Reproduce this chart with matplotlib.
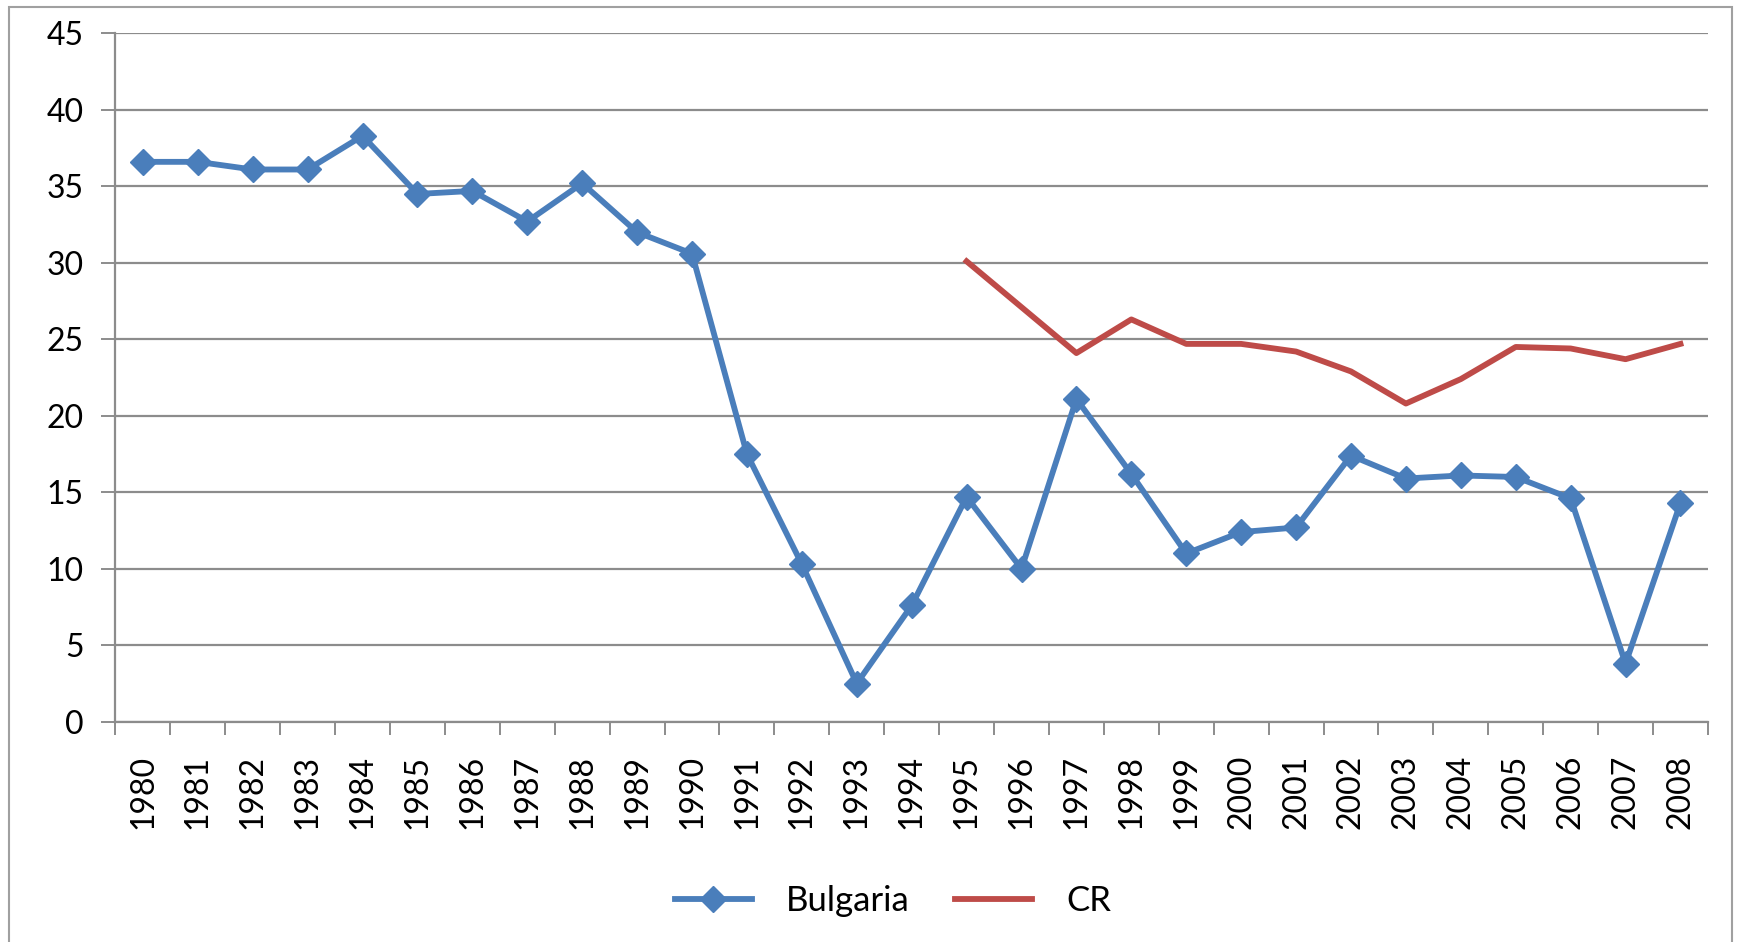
import matplotlib.pyplot as plt
from matplotlib.patches import Rectangle
import numpy as np

#-----------------Data-------------

years = list(range(1980, 2009))

bulgaria = [36.6, 36.6, 36.1, 36.1, 38.3, 34.5, 34.7, 32.7, 35.2, 32.0,
            30.6, 17.5, 10.3, 2.5, 7.6, 14.7, 10.0, 21.1, 16.2, 11.0,
            12.4, 12.7, 17.4, 15.9, 16.1, 16.0, 14.6, 3.8, 14.3]

cr_years = list(range(1995, 2009))
cr = [30.1, 27.1, 24.1, 26.3, 24.7, 24.7, 24.2, 22.9, 20.8, 22.4,
      24.5, 24.4, 23.7, 24.7]

y_ticks = [0, 5, 10, 15, 20, 25, 30, 35, 40, 45]

#-----------------Figure-------------

plt.rcParams['font.family'] = ['Lato', 'DejaVu Sans']

fig = plt.figure(figsize=(17.41, 9.42), dpi=100)
ax = fig.add_axes([0.0663, 0.2338, 0.9147, 0.7308])

blue = '#4A7EBB'
red = '#BE4B48'
grid = '#8C8C8C'

x = np.arange(len(years))
cr_x = [years.index(y) for y in cr_years]

ax.plot(x, bulgaria, color=blue, lw=4.2, marker='D', markersize=13.5,
        label='Bulgaria', zorder=3)
ax.plot(cr_x, cr, color=red, lw=4.2, label='CR', zorder=3)

ax.set_xlim(-0.5, len(years) - 0.5)
ax.set_ylim(0, 45)
ax.set_yticks(y_ticks)
ax.yaxis.grid(True, color=grid, lw=1.6)
ax.set_axisbelow(True)

ax.set_xticks(x)
ax.set_xticklabels([str(y) for y in years], rotation=90)
ax.set_xticks(np.arange(-0.5, len(years)), minor=True)
ax.tick_params(axis='x', which='major', length=0, pad=24, labelsize=23)
ax.tick_params(axis='x', which='minor', length=9, width=1.4, color=grid)
ax.tick_params(axis='y', length=10, width=1.4, color=grid, labelsize=23, pad=13)

for side in ['top', 'right']:
    ax.spines[side].set_visible(False)
for side in ['left', 'bottom']:
    ax.spines[side].set_color(grid)
    ax.spines[side].set_linewidth(1.6)

#-----------------Legend & frame-------------

fig.legend(loc='center', bbox_to_anchor=(0.513, 0.043), ncol=2, frameon=False,
           fontsize=25, handlelength=2.2, handletextpad=1.0, columnspacing=1.3)

fig.patches.append(Rectangle((0.0052, -0.05), 0.9895, 1.043,
                             transform=fig.transFigure, fill=False,
                             edgecolor='#A0A0A0', lw=1.5))

plt.savefig('out.png', dpi=100)
